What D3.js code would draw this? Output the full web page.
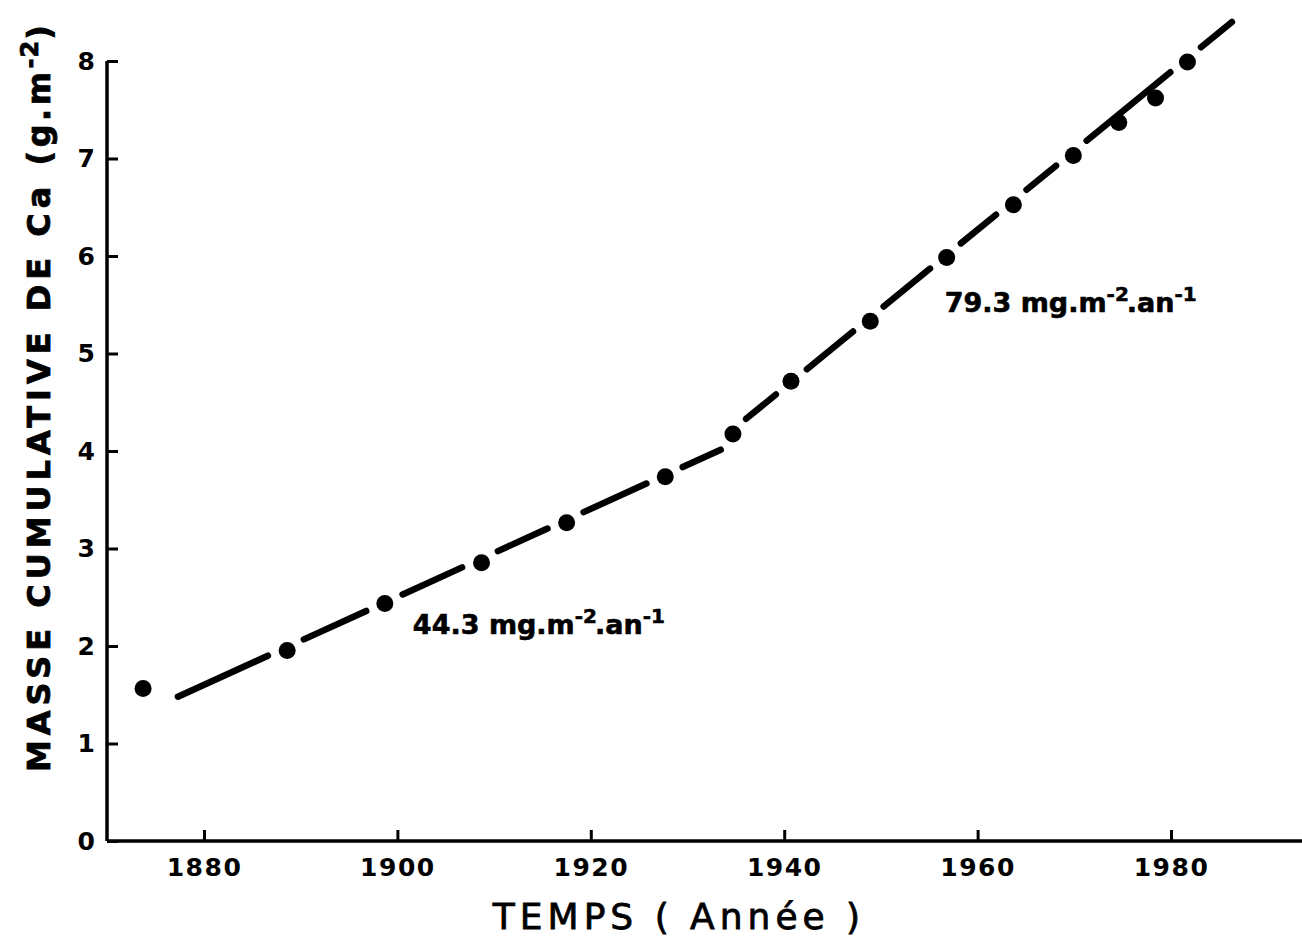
<!DOCTYPE html>
<html>
<head>
<meta charset="utf-8">
<script src="https://cdn.jsdelivr.net/npm/d3@7"></script>
<style>
  body { margin: 0; background: #fff; }
  svg { display: block; }
</style>
</head>
<body>
<div id="chart"></div>
<script>
// measured points: year vs cumulative Ca mass (g.m-2)
const years  = [1873.7, 1888.6, 1898.7, 1908.7, 1917.5, 1927.7, 1934.7, 1940.7, 1948.9, 1956.8, 1963.7, 1969.9, 1974.6, 1978.4, 1981.7];
const masses = [1.565, 1.955, 2.435, 2.855, 3.265, 3.735, 4.175, 4.715, 5.33, 5.985, 6.525, 7.03, 7.37, 7.62, 7.99];

// the two fitted lines (start / end)
const fitStartYears  = [1877.3, 1934.7];
const fitStartMasses = [1.48, 4.22];
const fitEndYears    = [1934.7, 1986.3];
const fitEndMasses   = [4.07, 8.40];
const fitRates       = ["44.3", "79.3"];

const xTicks = [1880, 1900, 1920, 1940, 1960, 1980];
const yTicks = [0, 1, 2, 3, 4, 5, 6, 7, 8];

const width = 1302, height = 939;
const font = "'DejaVu Sans', sans-serif";

const svg = d3.select("#chart").append("svg")
  .attr("width", width)
  .attr("height", height)
  .style("background", "#fff");

// scales
const x = d3.scaleLinear().domain([1880, 1980]).range([204, 1171]);
const y = d3.scaleLinear().domain([0, 8]).range([841, 61]);
const xLeft = x.invert(107), xRight = x.invert(1302);

// x axis
const gx = svg.append("g")
  .attr("transform", `translate(0,${y(0)})`)
  .call(d3.axisBottom(x).tickValues(xTicks).tickFormat(d3.format("d"))
    .tickSize(-11).tickPadding(17));
gx.select(".domain").remove();
gx.append("line")
  .attr("x1", x(xLeft)).attr("x2", x(xRight))
  .attr("stroke", "#000").attr("stroke-width", 3.5);
gx.selectAll(".tick line").attr("stroke", "#000").attr("stroke-width", 3);
gx.selectAll(".tick text")
  .attr("fill", "#000")
  .style("font-family", font)
  .style("font-size", "25px")
  .style("font-weight", "bold")
  .style("letter-spacing", "1.5px");

// y axis
const gy = svg.append("g")
  .attr("transform", `translate(${x(xLeft)},0)`)
  .call(d3.axisLeft(y).tickValues(yTicks).tickFormat(d3.format("d"))
    .tickSize(-11).tickPadding(12));
gy.select(".domain").remove();
gy.append("line")
  .attr("y1", y(0)).attr("y2", y(8))
  .attr("stroke", "#000").attr("stroke-width", 3.5);
gy.selectAll(".tick line").attr("stroke", "#000").attr("stroke-width", 3);
gy.selectAll(".tick text")
  .attr("fill", "#000")
  .style("font-family", font)
  .style("font-size", "25px")
  .style("font-weight", "bold");

// axis titles
svg.append("text")
  .attr("x", 679).attr("y", 929)
  .attr("text-anchor", "middle")
  .attr("stroke", "#000").attr("stroke-width", 0.8)
  .style("font-family", font)
  .style("font-size", "36px")
  .style("letter-spacing", "5px")
  .text("TEMPS ( Année )");

const yTitle = svg.append("text")
  .attr("transform", "translate(50,772) rotate(-90)")
  .attr("stroke", "#000").attr("stroke-width", 0.8)
  .style("font-family", font)
  .style("font-size", "32px")
  .style("font-weight", "bold")
  .style("letter-spacing", "5px");
yTitle.append("tspan").text("MASSE CUMULATIVE DE Ca ");
yTitle.append("tspan").style("letter-spacing", "3.5px").text("(g.m");
yTitle.append("tspan").attr("dy", -12).style("font-size", "24px")
  .style("letter-spacing", "1px").text("-2");
yTitle.append("tspan").attr("dy", 12).text(")");

// fitted lines, broken where they run through a point
const segs = fitStartYears.map((d, i) => ({
  a: [x(fitStartYears[i]), y(fitStartMasses[i])],
  b: [x(fitEndYears[i]), y(fitEndMasses[i])]
}));
const pts = years.map((d, i) => [x(d), y(masses[i])]);

function distToSeg(p, s) {
  const dx = s.b[0] - s.a[0], dy = s.b[1] - s.a[1];
  let t = ((p[0] - s.a[0]) * dx + (p[1] - s.a[1]) * dy) / (dx * dx + dy * dy);
  t = Math.max(0, Math.min(1, t));
  return Math.hypot(s.a[0] + t * dx - p[0], s.a[1] + t * dy - p[1]);
}

const gapCentres = pts.filter(p => d3.min(segs, s => distToSeg(p, s)) < 5);
const gapR = 20;
const pieces = [];
segs.forEach(s => {
  const dx = s.b[0] - s.a[0], dy = s.b[1] - s.a[1];
  const A = dx * dx + dy * dy;
  const cuts = [];
  gapCentres.forEach(c => {
    const fx = s.a[0] - c[0], fy = s.a[1] - c[1];
    const B = 2 * (fx * dx + fy * dy), C = fx * fx + fy * fy - gapR * gapR;
    const disc = B * B - 4 * A * C;
    if (disc <= 0) return;
    const sq = Math.sqrt(disc);
    cuts.push([(-B - sq) / (2 * A), (-B + sq) / (2 * A)]);
  });
  cuts.sort((p, q) => p[0] - q[0]);
  let t0 = 0;
  cuts.forEach(([u, v]) => {
    if (u > t0 && t0 < 1) pieces.push([s, t0, Math.min(u, 1)]);
    t0 = Math.max(t0, v);
  });
  if (t0 < 1) pieces.push([s, t0, 1]);
});

svg.append("g")
  .selectAll("line")
  .data(pieces)
  .join("line")
    .attr("x1", d => d[0].a[0] + d[1] * (d[0].b[0] - d[0].a[0]))
    .attr("y1", d => d[0].a[1] + d[1] * (d[0].b[1] - d[0].a[1]))
    .attr("x2", d => d[0].a[0] + d[2] * (d[0].b[0] - d[0].a[0]))
    .attr("y2", d => d[0].a[1] + d[2] * (d[0].b[1] - d[0].a[1]))
    .attr("stroke", "#000")
    .attr("stroke-width", 6.5)
    .attr("stroke-linecap", "round");

// points
svg.append("g")
  .selectAll("circle")
  .data(years)
  .join("circle")
    .attr("cx", d => x(d))
    .attr("cy", (d, i) => y(masses[i]))
    .attr("r", 8.5)
    .attr("fill", "#000");

// rate labels
const labelAt = [[1901.6, 2.12], [1956.6, 5.43]];
fitRates.forEach((r, i) => {
  const t = svg.append("text")
    .attr("x", x(labelAt[i][0]))
    .attr("y", y(labelAt[i][1]))
    .attr("stroke", "#000").attr("stroke-width", 0.6)
    .style("font-family", font)
    .style("font-size", "27px")
    .style("font-weight", "bold");
  t.append("tspan").text(r + " mg.m");
  t.append("tspan").attr("dy", -11).style("font-size", "20px").text("-2");
  t.append("tspan").attr("dy", 11).attr("dx", -2).text(".an");
  t.append("tspan").attr("dy", -11).style("font-size", "20px").text("-1");
});
</script>
</body>
</html>
